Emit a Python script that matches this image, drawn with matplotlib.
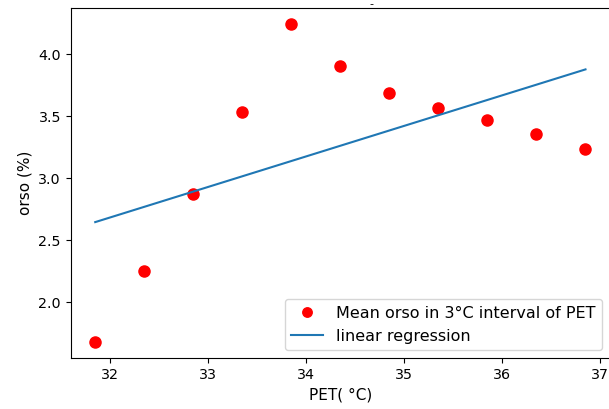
import matplotlib
matplotlib.use('Agg')
import matplotlib.pyplot as plt

# mean orso per PET bin
pet = [31.85, 32.35, 32.85, 33.35, 33.85, 34.35, 34.85, 35.35, 35.85, 36.35, 36.85]
orso = [1.677, 2.247, 2.871, 3.53, 4.244, 3.908, 3.688, 3.569, 3.47, 3.357, 3.236]

# regression line end points
reg_x = [31.85, 36.85]
reg_y = [2.645, 3.877]

W, H = 609, 409
fig = plt.figure(figsize=(W / 100, H / 100), dpi=100)
ax = fig.add_axes([70.7 / W, (H - 358) / H, (610 - 70.7) / W, 350 / H])

ax.plot(pet, orso, 'ro', ms=8, label='Mean orso in 3°C interval of PET')
ax.plot(reg_x, reg_y, label='linear regression')
ax.set_xlabel('PET( °C)', fontsize=11)
ax.set_ylabel('orso (%)', fontsize=11)
ax.tick_params(labelsize=10.3)
ax.legend(loc='lower right', fontsize=11.5, markerscale=0.85)

fig.text(371 / W, 1 - 4 / H, '-', ha='center', va='center', fontsize=8)

fig.savefig('out.png', dpi=100)
